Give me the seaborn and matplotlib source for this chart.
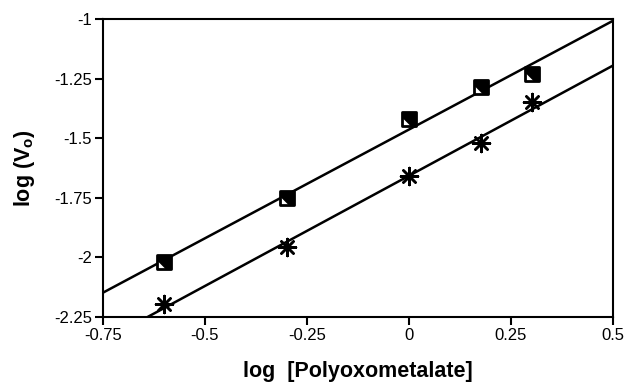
import numpy as np
import pandas as pd
import seaborn as sns
import matplotlib.pyplot as plt
from matplotlib.path import Path

# log [Polyoxometalate] and log(Vo)
log_conc = [-0.6, -0.3, 0.0, 0.176, 0.301]
square_vals = [-2.02, -1.75, -1.42, -1.285, -1.23]
star_vals = [-2.195, -1.955, -1.66, -1.52, -1.35]

xticks = [-0.75, -0.5, -0.25, 0, 0.25, 0.5]
xtick_labels = ['-0.75', '-0.5', '-0.25', '0', '0.25', '0.5']
yticks = [-2.25, -2, -1.75, -1.5, -1.25, -1]
ytick_labels = ['-2.25', '-2', '-1.75', '-1.5', '-1.25', '-1']

df = pd.DataFrame({'x': log_conc, 'sq': square_vals, 'st': star_vals})

sns.set_style('ticks')
plt.rcParams['font.family'] = ['Liberation Sans', 'DejaVu Sans']
plt.rcParams['mathtext.fontset'] = 'custom'
plt.rcParams['mathtext.bf'] = 'Liberation Sans:bold'

fig, ax = plt.subplots(figsize=(6.26, 3.86), dpi=100)
fig.subplots_adjust(left=0.1645, right=0.979, top=0.9508, bottom=0.1788)

ax.set_xlim(-0.75, 0.5)
ax.set_ylim(-2.25, -1)

# regression lines across the whole axis
sns.regplot(data=df, x='x', y='sq', scatter=False, ci=None, truncate=False,
            color='black', line_kws={'lw': 1.8}, ax=ax)
sns.regplot(data=df, x='x', y='st', scatter=False, ci=None, truncate=False,
            color='black', line_kws={'lw': 1.8}, ax=ax)

# mostly dark squares with a light lower-left corner
dark = Path([(-1, 1), (1, 1), (1, -1), (0.25, -1), (-1, 0.25), (-1, 1)], closed=True)
sns.scatterplot(data=df, x='x', y='sq', marker='s', s=110, facecolor='white',
                edgecolor='black', linewidth=2, ax=ax, zorder=3)
sns.scatterplot(data=df, x='x', y='sq', marker=dark, s=110, color='black',
                linewidth=0, ax=ax, zorder=4)
# asterisks
sns.scatterplot(data=df, x='x', y='st', marker=(8, 2, 0), s=150, color='black',
                linewidth=1.8, ax=ax, zorder=3)

ax.set_xticks(xticks)
ax.set_xticklabels(xtick_labels)
ax.set_yticks(yticks)
ax.set_yticklabels(ytick_labels)
ax.tick_params(direction='out', length=6, width=1.5, pad=2, labelsize=12, colors='black')

for sp in ax.spines.values():
    sp.set_visible(True)
    sp.set_linewidth(1.5)
    sp.set_color('black')

ax.set_xlabel('log  [Polyoxometalate]', fontsize=15.5, fontweight='bold',
              labelpad=13, color='black')
ax.set_ylabel(r'log (V$_{\mathbf{o}}$)', fontsize=15.5, fontweight='bold',
              labelpad=12, color='black')

plt.savefig('out.png', dpi=100)
